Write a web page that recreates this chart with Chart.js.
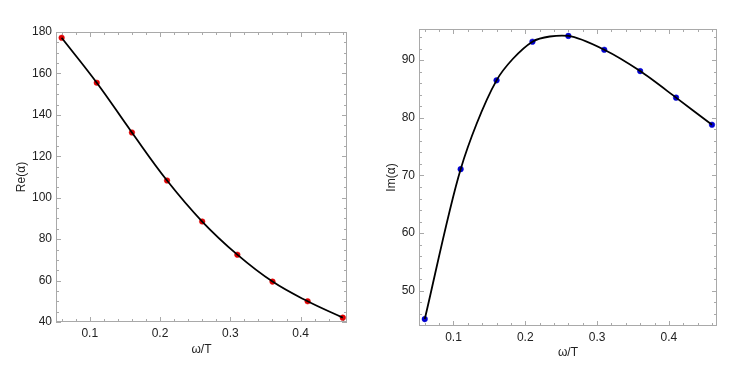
<!DOCTYPE html>
<html>
<head>
<meta charset="utf-8">
<script src="https://cdn.jsdelivr.net/npm/chart.js@4"></script>
<style>
body { margin: 0; background: #fff; width: 747px; height: 372px; overflow: hidden; position: relative; }
canvas { position: absolute; top: 0; }
#left { left: 0; }
#right { left: 373px; }
</style>
</head>
<body>
<canvas id="left" width="373" height="372"></canvas>
<canvas id="right" width="374" height="372"></canvas>
<script>
// data
const omega = [0.06, 0.11, 0.16, 0.21, 0.26, 0.31, 0.36, 0.41, 0.46];
const reAlpha = [177.2, 155.5, 131.5, 108.3, 88.5, 72.5, 59.5, 50.0, 42.1];
const imAlpha = [45.1, 71.1, 86.5, 93.2, 94.2, 91.8, 88.1, 83.5, 78.8];

const xTicks = [0.1, 0.2, 0.3, 0.4];
const reTicks = [40, 60, 80, 100, 120, 140, 160, 180];
const imTicks = [50, 60, 70, 80, 90];

const FONT = { family: "'Liberation Sans', Arial, sans-serif", size: 12 };
const TEXT = '#222';
const FRAME = '#a9a9a9';

// mathematica-ish frame with ticks pointing inwards on all four sides
const framePlugin = {
    id: 'frame',
    beforeDatasetsDraw(chart, args, o) {
        const ctx = chart.ctx;
        const a = chart.chartArea;
        const sx = chart.scales.x, sy = chart.scales.y;
        ctx.save();
        ctx.strokeStyle = FRAME;
        ctx.lineWidth = 1;
        ctx.strokeRect(Math.round(a.left) + 0.5, Math.round(a.top) + 0.5,
            Math.round(a.right - a.left) - 1, Math.round(a.bottom - a.top) - 1);

        function minors(scale, step) {
            let out = [];
            let v = Math.ceil(scale.min / step - 1e-9) * step;
            for (; v <= scale.max + 1e-9; v += step) out.push(v);
            return out;
        }
        function xTick(v, len) {
            let px = Math.round(sx.getPixelForValue(v)) + 0.5;
            ctx.beginPath();
            ctx.moveTo(px, a.bottom); ctx.lineTo(px, a.bottom - len);
            ctx.moveTo(px, a.top); ctx.lineTo(px, a.top + len);
            ctx.stroke();
        }
        function yTick(v, len) {
            let py = Math.round(sy.getPixelForValue(v)) + 0.5;
            ctx.beginPath();
            ctx.moveTo(a.left, py); ctx.lineTo(a.left + len, py);
            ctx.moveTo(a.right, py); ctx.lineTo(a.right - len, py);
            ctx.stroke();
        }
        minors(sx, o.xMinor).forEach(v => xTick(v, 3));
        minors(sy, o.yMinor).forEach(v => yTick(v, 3));
        o.xMajor.forEach(v => xTick(v, 5));
        o.yMajor.forEach(v => yTick(v, 5));
        ctx.restore();
    }
};

function makeChart(id, ys, yTickVals, yTitle, color, s) {
    let pts = omega.map((x, i) => ({ x: x, y: ys[i] }));
    return new Chart(document.getElementById(id), {
        type: 'line',
        data: {
            datasets: [
                {
                    data: pts,
                    borderColor: '#000',
                    borderWidth: 1.8,
                    tension: s.tension,
                    pointRadius: 0,
                    clip: false
                },
                {
                    data: pts,
                    showLine: false,
                    pointRadius: 2.8,
                    pointBackgroundColor: color,
                    pointBorderColor: color,
                    pointBorderWidth: 0.5,
                    clip: false
                }
            ]
        },
        options: {
            responsive: false,
            animation: false,
            events: [],
            layout: { padding: { top: s.top, right: s.right, left: 0, bottom: 0 } },
            plugins: {
                legend: { display: false },
                tooltip: { enabled: false },
                frame: { xMajor: xTicks, yMajor: yTickVals, xMinor: 0.02, yMinor: s.yMinor }
            },
            scales: {
                x: {
                    type: 'linear',
                    min: s.xMin, max: s.xMax,
                    grid: { display: false, drawTicks: false },
                    border: { display: false },
                    afterBuildTicks: sc => { sc.ticks = xTicks.map(v => ({ value: v })); },
                    afterFit: sc => { sc.height = s.xAxisH; },
                    ticks: { font: FONT, color: TEXT, padding: 4, maxRotation: 0,
                        callback: v => String(v) },
                    title: { display: true, text: 'ω/T', font: FONT, color: TEXT,
                        padding: { top: 0, bottom: s.xTitlePad } }
                },
                y: {
                    min: s.yMin, max: s.yMax,
                    grid: { display: false, drawTicks: false },
                    border: { display: false },
                    afterBuildTicks: sc => { sc.ticks = yTickVals.map(v => ({ value: v })); },
                    afterFit: sc => { sc.width = s.yAxisW; },
                    ticks: { font: FONT, color: TEXT, padding: 4,
                        callback: v => String(v) },
                    title: { display: true, text: yTitle, font: FONT, color: TEXT,
                        padding: { top: s.yTitlePad, bottom: 0 } }
                }
            }
        },
        plugins: [framePlugin]
    });
}

makeChart('left', reAlpha, reTicks, 'Re(α)', '#e00000', {
    top: 32, right: 26, yAxisW: 56, xAxisH: 50, tension: 0.4,
    xMin: 0.052, xMax: 0.466, yMin: 40, yMax: 180, yMinor: 5,
    xTitlePad: 15, yTitlePad: 14
});

makeChart('right', imAlpha, imTicks, 'Im(α)', '#0000d0', {
    top: 29, right: 30, yAxisW: 46, xAxisH: 46, tension: 0.28,
    xMin: 0.052, xMax: 0.467, yMin: 43.9, yMax: 95.4, yMinor: 2,
    xTitlePad: 12, yTitlePad: 11
});
</script>
</body>
</html>
